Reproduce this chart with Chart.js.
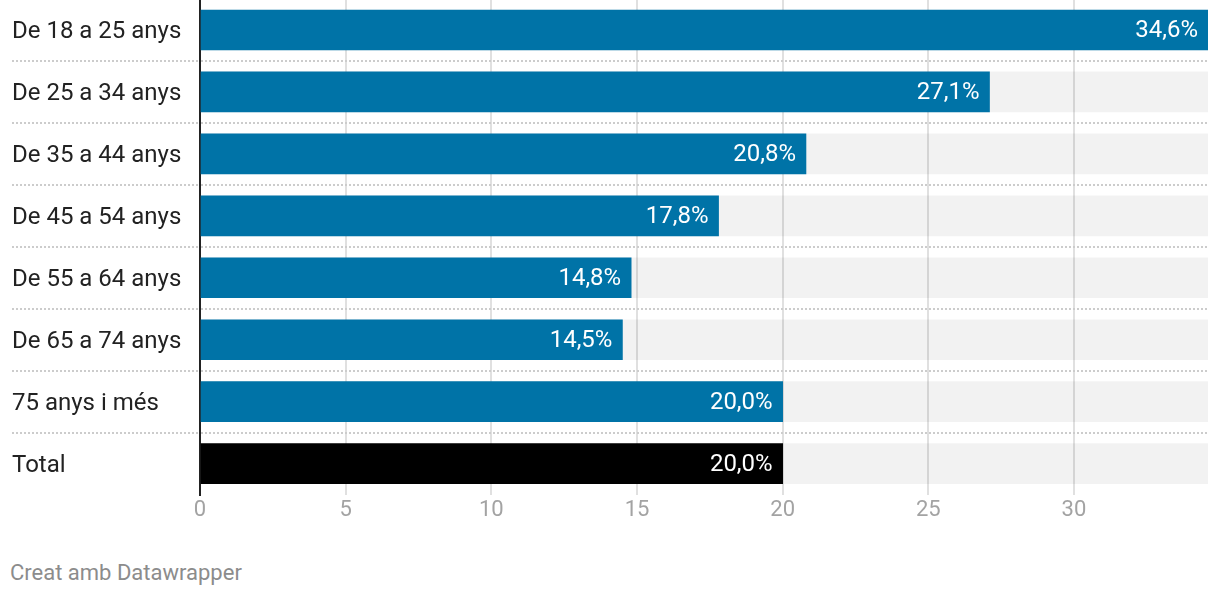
<!DOCTYPE html>
<html>
<head>
<meta charset="utf-8">
<script src="https://cdn.jsdelivr.net/npm/chart.js@4"></script>
<style>
  body { margin: 0; background: #fff; font-family: Roboto, sans-serif; }
  #wrap { position: absolute; left: 0; top: -1px; width: 1220px; height: 528px; }
  #credit { position: absolute; left: 10px; top: 560px; font-size: 22px; color: #8c8c8c; }
</style>
</head>
<body>
<div id="wrap"><canvas id="chart"></canvas></div>
<div id="credit">Creat amb Datawrapper</div>
<script>
const ageGroups = [
  "De 18 a 25 anys",
  "De 25 a 34 anys",
  "De 35 a 44 anys",
  "De 45 a 54 anys",
  "De 55 a 64 anys",
  "De 65 a 74 anys",
  "75 anys i més",
  "Total",
];
const shares = [34.6, 27.1, 20.8, 17.8, 14.8, 14.5, 20.0, 20.0];
const axisMax = 34.6;
const xTickStep = 5;

const barColors = ageGroups.map((g) => (g === "Total" ? "#000000" : "#0073a7"));

// white value labels inside the end of each bar
const valueLabels = {
  id: "valueLabels",
  afterDatasetsDraw(chart) {
    const ctx = chart.ctx;
    const meta = chart.getDatasetMeta(0);
    ctx.save();
    ctx.font = "24px Roboto";
    ctx.fillStyle = "#ffffff";
    ctx.textAlign = "right";
    ctx.textBaseline = "middle";
    meta.data.forEach((bar, i) => {
      const txt = shares[i].toFixed(1).replace(".", ",") + "%";
      ctx.fillText(txt, bar.x - 10, bar.y + 1);
    });
    ctx.restore();
  },
};

new Chart(document.getElementById("chart"), {
  type: "bar",
  plugins: [valueLabels],
  data: {
    labels: ageGroups,
    datasets: [
      {
        data: shares,
        backgroundColor: barColors,
        barThickness: 40,
        grouped: false,
      },
      {
        data: ageGroups.map(() => axisMax),
        backgroundColor: "rgba(0,0,0,0.05)",
        barThickness: 40,
        grouped: false,
      },
    ],
  },
  options: {
    indexAxis: "y",
    responsive: true,
    maintainAspectRatio: false,
    animation: false,
    layout: { padding: { left: 12, right: 12, top: 0, bottom: 0 } },
    plugins: {
      legend: { display: false },
      tooltip: { enabled: false },
    },
    scales: {
      x: {
        min: 0,
        max: axisMax,
        afterFit: (scale) => { scale.paddingLeft = 0; scale.paddingRight = 0; },
        ticks: {
          stepSize: xTickStep,
          includeBounds: false,
          color: "#a3a3a3",
          font: { family: "Roboto", size: 22 },
          padding: 3,
          maxRotation: 0,
        },
        grid: { color: "#e0e0e0", lineWidth: 2, drawTicks: false },
        border: { display: false },
      },
      y: {
        afterFit: (scale) => {
          scale.width = 188;
          scale.paddingTop = 0;
          scale.paddingBottom = 0;
        },
        ticks: {
          crossAlign: "far",
          color: "#222222",
          font: { family: "Roboto", size: 24 },
          padding: 0,
          labelOffset: 2,
        },
        grid: {
          offset: true,
          color: (c) => (c.index === undefined || c.index === 0 ? "rgba(0,0,0,0)" : "#cccccc"),
          lineWidth: 2,
          tickLength: 188,
          tickBorderDash: [2, 2],
        },
        border: { display: true, color: "#222222", width: 2, dash: [2, 2] },
      },
    },
  },
});
</script>
</body>
</html>
